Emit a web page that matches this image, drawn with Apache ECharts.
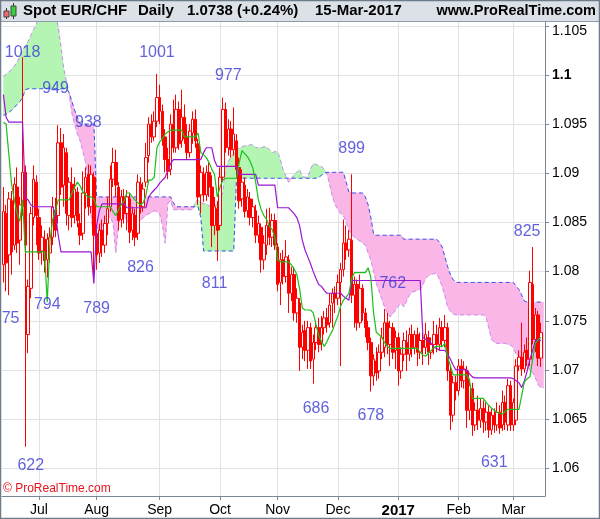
<!DOCTYPE html>
<html><head><meta charset="utf-8">
<script src="https://cdn.jsdelivr.net/npm/echarts@6/dist/echarts.min.js"></script>
<style>html,body{margin:0;padding:0;background:#fff}#c{width:600px;height:519px}</style>
</head><body><div id="c"></div>
<script>
// ---------- DATA ----------
const tradingDays = [
 ['2016-06',[14,15,16,17,20,21,22,23,24,27,28,29,30]],
 ['2016-07',[1,4,5,6,7,8,11,12,13,14,15,18,19,20,21,22,25,26,27,28,29]],
 ['2016-08',[1,2,3,4,5,8,9,10,11,12,15,16,17,18,19,22,23,24,25,26,29,30,31]],
 ['2016-09',[1,2,5,6,7,8,9,12,13,14,15,16,19,20,21,22,23,26,27,28,29,30]],
 ['2016-10',[3,4,5,6,7,10,11,12,13,14,17,18,19,20,21,24,25,26,27,28,31]],
 ['2016-11',[1,2,3,4,7,8,9,10,11,14,15,16,17,18,21,22,23,24,25,28,29,30]],
 ['2016-12',[1,2,5,6,7,8,9,12,13,14,15,16,19,20,21,22,23,26,27,28,29,30]],
 ['2017-01',[2,3,4,5,6,9,10,11,12,13,16,17,18,19,20,23,24,25,26,27,30,31]],
 ['2017-02',[1,2,3,6,7,8,9,10,13,14,15,16,17,20,21,22,23,24,27,28]],
 ['2017-03',[1,2,3,6,7,8,9,10,13,14,15,16]]
];
const monthTickLabels = {'2016-07':'Jul','2016-08':'Aug','2016-09':'Sep','2016-10':'Oct','2016-11':'Nov','2016-12':'Dec','2017-01':'2017','2017-02':'Feb','2017-03':'Mar'};
const yTicks = [1.06,1.065,1.07,1.075,1.08,1.085,1.09,1.095,1.1,1.105];

// candles: [open, close, low, high]
const candles = [
[1.0807,1.0861,1.0789,1.0886],[1.0859,1.0809,1.0780,1.0868],[1.0817,1.0874,1.0776,1.0881],[1.0872,1.0820,1.0797,1.0882],
[1.0827,1.0889,1.0822,1.0896],[1.0886,1.0829,1.0819,1.0906],[1.0832,1.0868,1.0807,1.0876],[1.0866,1.0901,1.0857,1.1018],
[1.0901,1.0827,1.0622,1.0908],[1.0736,1.0785,1.0717,1.0792],[1.0783,1.0859,1.0773,1.0866],[1.0855,1.0894,1.0847,1.0908],
[1.0891,1.0857,1.0827,1.0898],
[1.0855,1.0819,1.0812,1.0864],[1.0821,1.0835,1.0807,1.0847],[1.0833,1.0811,1.0799,1.0842],[1.0812,1.0833,1.0794,1.0839],
[1.0819,1.0835,1.0809,1.0845],[1.0835,1.0866,1.0827,1.0876],[1.0862,1.0842,1.0835,1.0875],[1.0857,1.0931,1.0849,1.0949],
[1.0931,1.0886,1.0878,1.0946],[1.0888,1.0926,1.0866,1.0940],[1.0921,1.0859,1.0847,1.0926],[1.0857,1.0891,1.0842,1.0896],
[1.0889,1.0855,1.0845,1.0906],[1.0857,1.0884,1.0849,1.0896],[1.0881,1.0852,1.0845,1.0886],[1.0849,1.0837,1.0827,1.0859],
[1.0839,1.0880,1.0832,1.0902],[1.0880,1.0896,1.0864,1.0906],[1.0899,1.0866,1.0857,1.0909],[1.0866,1.0899,1.0859,1.0908],
[1.0896,1.0837,1.0789,1.0901],
[1.0839,1.0817,1.0802,1.0847],[1.0819,1.0842,1.0809,1.0849],[1.0842,1.0827,1.0815,1.0853],[1.0827,1.0849,1.0819,1.0857],
[1.0849,1.0864,1.0837,1.0876],[1.0866,1.0894,1.0861,1.0908],[1.0894,1.0911,1.0886,1.0926],[1.0911,1.0888,1.0876,1.0924],
[1.0886,1.0852,1.0842,1.0891],[1.0853,1.0876,1.0845,1.0883],[1.0876,1.0859,1.0849,1.0884],[1.0859,1.0876,1.0842,1.0883],
[1.0874,1.0840,1.0829,1.0880],[1.0842,1.0859,1.0832,1.0866],[1.0857,1.0835,1.0826,1.0864],[1.0839,1.0891,1.0832,1.0899],
[1.0889,1.0866,1.0859,1.0896],[1.0866,1.0884,1.0861,1.0891],[1.0891,1.0916,1.0886,1.0931],[1.0918,1.0950,1.0911,1.0957],
[1.0950,1.0937,1.0931,1.0960],[1.0937,1.0953,1.0933,1.0963],[1.0953,1.0977,1.0947,1.1001],
[1.0977,1.0963,1.0950,1.0990],[1.0963,1.0935,1.0928,1.0970],[1.0937,1.0914,1.0901,1.0945],[1.0914,1.0902,1.0894,1.0926],
[1.0904,1.0950,1.0898,1.0960],[1.0950,1.0926,1.0921,1.0975],[1.0926,1.0965,1.0921,1.0980],[1.0965,1.0930,1.0924,1.0973],
[1.0933,1.0957,1.0926,1.0985],[1.0957,1.0935,1.0930,1.0970],[1.0937,1.0921,1.0914,1.0950],[1.0921,1.0943,1.0916,1.0950],
[1.0941,1.0955,1.0930,1.0963],[1.0955,1.0933,1.0926,1.0965],[1.0930,1.0876,1.0868,1.0935],[1.0878,1.0901,1.0859,1.0908],
[1.0899,1.0878,1.0871,1.0906],[1.0878,1.0901,1.0872,1.0908],[1.0901,1.0886,1.0876,1.0911],[1.0886,1.0847,1.0825,1.0898],
[1.0847,1.0866,1.0837,1.0876],[1.0864,1.0842,1.0811,1.0872],
[1.0847,1.0896,1.0842,1.0906],[1.0896,1.0965,1.0891,1.0977],[1.0965,1.0926,1.0921,1.0972],[1.0926,1.0945,1.0918,1.0955],
[1.0945,1.0924,1.0916,1.0953],[1.0924,1.0940,1.0918,1.0967],[1.0933,1.0904,1.0896,1.0940],[1.0906,1.0872,1.0864,1.0916],
[1.0874,1.0891,1.0866,1.0904],[1.0888,1.0861,1.0855,1.0896],[1.0862,1.0876,1.0855,1.0884],[1.0874,1.0855,1.0847,1.0881],
[1.0855,1.0866,1.0845,1.0874],[1.0862,1.0837,1.0829,1.0868],[1.0837,1.0849,1.0829,1.0857],[1.0845,1.0812,1.0799,1.0849],
[1.0812,1.0829,1.0802,1.0837],[1.0827,1.0847,1.0817,1.0864],[1.0847,1.0835,1.0827,1.0865],[1.0835,1.0852,1.0825,1.0859],
[1.0852,1.0827,1.0822,1.0859],
[1.0825,1.0787,1.0780,1.0829],[1.0789,1.0812,1.0766,1.0819],[1.0812,1.0795,1.0787,1.0822],[1.0795,1.0815,1.0789,1.0832],
[1.0812,1.0778,1.0758,1.0817],[1.0778,1.0797,1.0770,1.0805],[1.0797,1.0758,1.0750,1.0805],[1.0758,1.0773,1.0748,1.0783],
[1.0768,1.0723,1.0699,1.0773],[1.0723,1.0738,1.0711,1.0746],[1.0740,1.0720,1.0709,1.0750],[1.0720,1.0743,1.0701,1.0750],
[1.0743,1.0709,1.0701,1.0748],[1.0711,1.0728,1.0686,1.0736],[1.0728,1.0743,1.0720,1.0750],[1.0743,1.0726,1.0718,1.0753],
[1.0728,1.0743,1.0720,1.0755],[1.0743,1.0753,1.0736,1.0760],[1.0753,1.0746,1.0738,1.0763],[1.0748,1.0766,1.0743,1.0778],
[1.0768,1.0778,1.0743,1.0783],[1.0778,1.0773,1.0758,1.0785],
[1.0773,1.0789,1.0766,1.0797],[1.0789,1.0802,1.0704,1.0809],[1.0802,1.0829,1.0795,1.0853],[1.0829,1.0822,1.0812,1.0847],
[1.0822,1.0833,1.0815,1.0842],[1.0832,1.0776,1.0768,1.0899],[1.0776,1.0787,1.0743,1.0795],[1.0787,1.0748,1.0740,1.0792],
[1.0748,1.0783,1.0743,1.0797],[1.0783,1.0758,1.0750,1.0787],[1.0758,1.0743,1.0733,1.0763],[1.0743,1.0728,1.0720,1.0750],
[1.0728,1.0694,1.0678,1.0733],[1.0694,1.0711,1.0684,1.0716],[1.0709,1.0697,1.0689,1.0723],[1.0699,1.0718,1.0691,1.0726],
[1.0718,1.0733,1.0711,1.0743],[1.0723,1.0748,1.0713,1.0762],[1.0748,1.0726,1.0716,1.0758],[1.0726,1.0743,1.0704,1.0750],
[1.0743,1.0718,1.0711,1.0748],[1.0720,1.0733,1.0701,1.0740],
[1.0733,1.0699,1.0684,1.0738],[1.0699,1.0716,1.0691,1.0723],[1.0716,1.0730,1.0709,1.0738],[1.0728,1.0716,1.0699,1.0740],
[1.0716,1.0736,1.0709,1.0743],[1.0736,1.0723,1.0713,1.0746],[1.0723,1.0736,1.0716,1.0740],[1.0736,1.0718,1.0704,1.0743],
[1.0718,1.0730,1.0711,1.0738],[1.0730,1.0723,1.0705,1.0738],[1.0723,1.0736,1.0716,1.0748],[1.0733,1.0718,1.0705,1.0740],
[1.0718,1.0726,1.0711,1.0733],[1.0726,1.0736,1.0716,1.0750],[1.0736,1.0726,1.0718,1.0746],[1.0726,1.0743,1.0720,1.0753],
[1.0743,1.0730,1.0723,1.0750],[1.0730,1.0743,1.0723,1.0756],[1.0743,1.0699,1.0689,1.0748],[1.0699,1.0654,1.0639,1.0704],
[1.0654,1.0687,1.0647,1.0694],[1.0687,1.0679,1.0669,1.0694],
[1.0679,1.0704,1.0674,1.0711],[1.0704,1.0689,1.0682,1.0711],[1.0689,1.0701,1.0681,1.0709],[1.0699,1.0659,1.0641,1.0704],
[1.0659,1.0684,1.0649,1.0691],[1.0681,1.0644,1.0633,1.0687],[1.0644,1.0659,1.0638,1.0667],[1.0659,1.0649,1.0639,1.0674],
[1.0649,1.0661,1.0641,1.0671],[1.0661,1.0647,1.0636,1.0669],[1.0647,1.0657,1.0638,1.0667],[1.0657,1.0639,1.0631,1.0664],
[1.0639,1.0654,1.0634,1.0661],[1.0654,1.0644,1.0636,1.0661],[1.0644,1.0657,1.0638,1.0667],[1.0657,1.0641,1.0635,1.0664],
[1.0644,1.0667,1.0638,1.0679],[1.0667,1.0647,1.0639,1.0674],[1.0644,1.0684,1.0638,1.0691],[1.0684,1.0644,1.0638,1.0689],
[1.0644,1.0667,1.0638,1.0671],[1.0649,1.0704,1.0644,1.0711],[1.0704,1.0713,1.0699,1.0720],[1.0713,1.0701,1.0694,1.0748],
[1.0701,1.0718,1.0697,1.0726],[1.0720,1.0711,1.0704,1.0733],[1.0711,1.0789,1.0704,1.0801],[1.0787,1.0731,1.0726,1.0825],
[1.0731,1.0756,1.0718,1.0763],[1.0756,1.0712,1.0704,1.0760],[1.0712,1.0738,1.0703,1.0748]
];

const tenkan = [
1.0952,1.0950,1.0919,1.0889,1.0873,1.0859,1.0851,1.0873,1.0820,1.0820,
1.0820,1.0820,1.0820,1.0820,1.0820,1.0820,1.0769,1.0832,1.0853,1.0862,
1.0873,1.0873,1.0873,1.0873,1.0873,1.0880,1.0886,1.0891,1.0887,1.0881,
1.0878,1.0876,1.0876,1.0874,1.0866,1.0866,1.0866,1.0866,1.0866,1.0866,
1.0861,1.0857,1.0863,1.0868,1.0872,1.0880,1.0880,1.0876,1.0873,1.0870,
1.0868,1.0870,1.0878,1.0893,1.0893,1.0896,1.0926,1.0932,1.0935,1.0940,
1.0942,1.0944,1.0944,1.0944,1.0944,1.0944,1.0937,1.0937,1.0937,1.0937,
1.0937,1.0941,1.0921,1.0919,1.0916,1.0911,1.0904,1.0899,1.0876,1.0886,
1.0893,1.0895,1.0895,1.0895,1.0895,1.0895,1.0911,1.0923,1.0920,1.0917,
1.0912,1.0905,1.0891,1.0873,1.0863,1.0857,1.0853,1.0846,1.0843,1.0835,
1.0812,1.0810,1.0810,1.0810,1.0810,1.0807,1.0803,1.0797,1.0783,1.0763,
1.0761,1.0761,1.0761,1.0758,1.0746,1.0735,1.0729,1.0724,1.0729,1.0735,
1.0740,1.0748,1.0755,1.0765,1.0771,1.0774,1.0778,1.0793,1.0799,1.0799,
1.0799,1.0799,1.0799,1.0804,1.0794,1.0758,1.0738,1.0736,1.0733,1.0728,
1.0724,1.0722,1.0722,1.0722,1.0722,1.0722,1.0722,1.0722,1.0722,1.0722,
1.0722,1.0722,1.0718,1.0715,1.0714,1.0717,1.0720,1.0723,1.0724,1.0724,
1.0724,1.0727,1.0713,1.0704,1.0695,1.0695,1.0695,1.0695,1.0695,1.0695,
1.0689,1.0671,1.0671,1.0671,1.0671,1.0671,1.0667,1.0664,1.0661,1.0659,
1.0657,1.0656,1.0655,1.0658,1.0660,1.0660,1.0660,1.0660,1.0660,1.0674,
1.0688,1.0691,1.0693,1.0711,1.0727,1.0731,1.0733
];

const kijun = [
1.0980,1.0957,1.0952,1.0952,1.0952,1.0952,1.0952,1.0952,1.0875,1.0873,
1.0868,1.0866,1.0866,1.0866,1.0866,1.0866,1.0866,1.0866,1.0866,1.0859,
1.0837,1.0820,1.0820,1.0820,1.0820,1.0820,1.0820,1.0820,1.0820,1.0820,
1.0820,1.0820,1.0820,1.0788,1.0847,1.0862,1.0869,1.0869,1.0869,1.0869,
1.0869,1.0869,1.0869,1.0869,1.0869,1.0865,1.0865,1.0865,1.0865,1.0865,
1.0865,1.0865,1.0865,1.0876,1.0880,1.0883,1.0886,1.0890,1.0893,1.0896,
1.0903,1.0910,1.0914,1.0914,1.0914,1.0914,1.0914,1.0914,1.0914,1.0914,
1.0914,1.0914,1.0914,1.0921,1.0926,1.0926,1.0926,1.0913,1.0907,1.0907,
1.0907,1.0907,1.0907,1.0907,1.0907,1.0907,1.0899,1.0899,1.0899,1.0899,
1.0899,1.0899,1.0899,1.0888,1.0888,1.0888,1.0888,1.0888,1.0888,1.0888,
1.0865,1.0865,1.0865,1.0865,1.0865,1.0862,1.0859,1.0855,1.0847,1.0832,
1.0822,1.0815,1.0808,1.0800,1.0793,1.0787,1.0785,1.0781,1.0778,1.0778,
1.0778,1.0778,1.0778,1.0778,1.0775,1.0773,1.0771,1.0791,1.0791,1.0791,
1.0791,1.0791,1.0791,1.0791,1.0791,1.0791,1.0791,1.0791,1.0791,1.0791,
1.0791,1.0791,1.0791,1.0791,1.0791,1.0791,1.0791,1.0791,1.0791,1.0791,
1.0791,1.0791,1.0791,1.0733,1.0731,1.0730,1.0727,1.0723,1.0722,1.0720,
1.0720,1.0720,1.0716,1.0711,1.0705,1.0700,1.0700,1.0700,1.0700,1.0700,
1.0696,1.0693,1.0692,1.0692,1.0692,1.0692,1.0692,1.0692,1.0692,1.0692,
1.0692,1.0692,1.0692,1.0692,1.0692,1.0692,1.0691,1.0689,1.0687,1.0682,
1.0689,1.0699,1.0711,1.0720,1.0730,1.0730,1.0730
];

const spanA = [
1.0998,1.1001,1.1003,1.1006,1.1009,1.1013,1.1019,1.1025,1.1030,1.1034,
1.1040,1.1046,1.1051,1.1062,1.1062,1.1062,1.1062,1.1062,1.1062,1.1062,
1.1049,1.1029,1.1007,1.0993,1.0981,1.0961,1.0950,1.0940,1.0933,1.0922,
1.0911,1.0891,1.0857,1.0833,1.0848,1.0840,1.0845,1.0851,1.0854,1.0856,
1.0849,1.0819,1.0849,1.0854,1.0856,1.0852,1.0848,1.0846,1.0848,1.0850,
1.0852,1.0855,1.0857,1.0859,1.0860,1.0862,1.0861,1.0859,1.0847,1.0829,
1.0870,1.0872,1.0863,1.0863,1.0863,1.0863,1.0863,1.0863,1.0863,1.0863,
1.0871,1.0873,1.0870,1.0869,1.0869,1.0867,1.0865,1.0867,1.0869,1.0872,
1.0881,1.0904,1.0912,1.0917,1.0920,1.0924,1.0926,1.0927,1.0928,1.0928,
1.0929,1.0929,1.0926,1.0926,1.0926,1.0927,1.0927,1.0924,1.0921,1.0922,
1.0922,1.0914,1.0904,1.0897,1.0891,1.0894,1.0899,1.0901,1.0904,1.0897,
1.0896,1.0896,1.0904,1.0910,1.0909,1.0908,1.0907,1.0904,1.0900,1.0888,
1.0876,1.0868,1.0863,1.0859,1.0857,1.0850,1.0842,1.0838,1.0835,1.0833,
1.0831,1.0829,1.0827,1.0819,1.0812,1.0800,1.0788,1.0780,1.0772,1.0764,
1.0758,1.0754,1.0757,1.0761,1.0765,1.0768,1.0764,1.0770,1.0776,1.0779,
1.0780,1.0781,1.0782,1.0787,1.0793,1.0796,1.0797,1.0798,1.0798,1.0792,
1.0785,1.0775,1.0764,1.0760,1.0757,1.0756,1.0756,1.0756,1.0756,1.0756,
1.0756,1.0756,1.0756,1.0756,1.0756,1.0756,1.0754,1.0743,1.0731,1.0728,
1.0727,1.0727,1.0727,1.0727,1.0726,1.0725,1.0723,1.0716,1.0713,1.0711,
1.0708,1.0704,1.0700,1.0697,1.0692,1.0685,1.0682,1.0682
];

const spanB = [
1.0959,1.0960,1.0962,1.0964,1.0967,1.0970,1.0973,1.0977,1.0985,1.0986,
1.0986,1.0986,1.0986,1.0986,1.0986,1.0986,1.0986,1.0986,1.0986,1.0986,
1.0986,1.0986,1.0986,1.0986,1.0982,1.0973,1.0964,1.0957,1.0950,1.0950,
1.0950,1.0950,1.0950,1.0950,1.0876,1.0876,1.0876,1.0876,1.0876,1.0876,
1.0876,1.0876,1.0876,1.0876,1.0876,1.0876,1.0876,1.0876,1.0876,1.0876,
1.0876,1.0876,1.0876,1.0876,1.0876,1.0876,1.0876,1.0876,1.0876,1.0876,
1.0876,1.0876,1.0870,1.0866,1.0866,1.0866,1.0866,1.0866,1.0866,1.0866,
1.0866,1.0866,1.0855,1.0821,1.0821,1.0821,1.0821,1.0821,1.0821,1.0821,
1.0821,1.0821,1.0821,1.0821,1.0821,1.0895,1.0895,1.0895,1.0895,1.0895,
1.0895,1.0895,1.0895,1.0895,1.0895,1.0895,1.0895,1.0895,1.0895,1.0895,
1.0895,1.0895,1.0895,1.0895,1.0895,1.0895,1.0895,1.0895,1.0895,1.0895,
1.0895,1.0895,1.0895,1.0895,1.0895,1.0896,1.0898,1.0900,1.0901,1.0901,
1.0901,1.0901,1.0901,1.0901,1.0901,1.0891,1.0881,1.0880,1.0880,1.0880,
1.0880,1.0880,1.0876,1.0868,1.0855,1.0838,1.0837,1.0837,1.0837,1.0837,
1.0837,1.0837,1.0837,1.0837,1.0837,1.0837,1.0833,1.0833,1.0833,1.0833,
1.0833,1.0833,1.0833,1.0833,1.0833,1.0833,1.0833,1.0833,1.0833,1.0830,
1.0825,1.0815,1.0805,1.0797,1.0792,1.0789,1.0789,1.0789,1.0789,1.0789,
1.0789,1.0789,1.0789,1.0789,1.0789,1.0789,1.0789,1.0789,1.0789,1.0789,
1.0789,1.0789,1.0789,1.0789,1.0789,1.0789,1.0789,1.0785,1.0782,1.0776,
1.0770,1.0769,1.0769,1.0769,1.0769,1.0769,1.0769,1.0769
];

// swing annotations: text, bar index, price where the text sits
const swingLabels = [
 ['1018',7,1.1023],['949',19,1.0986],['938',31,1.0952],['1001',56,1.1023],['977',82,1.0999],
 ['899',127,1.0925],['826',50,1.0804],['811',77,1.0788],['794',16,1.0766],['789',34,1.0762],
 ['775',1,1.0752],['762',142,1.0788],['825',191,1.0841],['686',114,1.0661],['678',134,1.0654],
 ['631',179,1.0606],['622',10,1.0603]
];

const Y_MIN = 1.05718, Y_MAX = 1.10539;

// ---------- BUILD ----------
const categories = [];
const monthStart = new Map();
tradingDays.forEach(([ym, days]) => {
  days.forEach((d, k) => {
    const idx = categories.length;
    categories.push(ym + '-' + String(d).padStart(2, '0'));
    if (k === 0 && monthTickLabels[ym]) monthStart.set(idx, monthTickLabels[ym]);
  });
});
const isMonth = (i) => monthStart.has(i);

const GREEN = '#b4f5b4', PINK = '#f9b6e6';
// cloud: one polygon per run where span A stays on the same side of span B
function renderCloud(params, api) {
  const pa = (i) => api.coord([i, spanA[i]]);
  const pb = (i) => api.coord([i, spanB[i]]);
  const children = [];
  let run = null;
  const flush = () => {
    if (run && run.top.length > 1) {
      const c = run.sign > 0 ? GREEN : PINK;
      children.push({type: 'polygon', shape: {points: run.top.concat(run.bot.slice().reverse())},
        style: {fill: c, stroke: c, lineWidth: 0.5}});
    }
  };
  for (let i = 0; i < spanA.length; i++) {
    const d = spanA[i] - spanB[i];
    const s = d >= 0 ? 1 : -1;
    if (!run) { run = {sign: s, top: [pa(i)], bot: [pb(i)]}; continue; }
    if (s === run.sign) { run.top.push(pa(i)); run.bot.push(pb(i)); continue; }
    const dp = spanA[i - 1] - spanB[i - 1];
    const t = dp / (dp - d);
    const A0 = pa(i - 1), A1 = pa(i);
    const X = [A0[0] + (A1[0] - A0[0]) * t, A0[1] + (A1[1] - A0[1]) * t];
    run.top.push(X); run.bot.push(X);
    flush();
    run = {sign: s, top: [X, pa(i)], bot: [X, pb(i)]};
  }
  flush();
  return {type: 'group', children};
}

const FONT = '"Liberation Sans", Arial, sans-serif';
const AXIS_COL = '#7b8794';

const chart = echarts.init(document.getElementById('c'), null, {renderer: 'canvas', width: 600, height: 519});
chart.setOption({
  animation: false,
  backgroundColor: '#ffffff',
  grid: {left: 2, right: 55, top: 22, bottom: 23, containLabel: false},
  xAxis: {
    type: 'category', data: categories, boundaryGap: true,
    axisLine: {show: true, lineStyle: {color: AXIS_COL, width: 1}},
    axisTick: {show: true, interval: isMonth, alignWithLabel: true, length: 4, lineStyle: {color: AXIS_COL}},
    axisLabel: {
      interval: isMonth, margin: 7, fontFamily: FONT, fontSize: 14, color: '#000',
      formatter: (v, idx) => { const l = monthStart.get(idx) || ''; return l === '2017' ? '{b|2017}' : l; },
      rich: {b: {fontFamily: FONT, fontSize: 15, fontWeight: 'bold', color: '#000'}}
    },
    splitLine: {show: true, interval: isMonth, alignWithLabel: true, lineStyle: {color: '#e2e2e2', width: 1}}
  },
  yAxis: {
    type: 'value', position: 'right', min: Y_MIN, max: Y_MAX,
    axisLine: {show: true, lineStyle: {color: AXIS_COL, width: 1}},
    axisTick: {show: true, length: 4, customValues: yTicks, lineStyle: {color: AXIS_COL}},
    axisLabel: {
      customValues: yTicks, margin: 7, fontFamily: FONT, fontSize: 14, color: '#000',
      formatter: (v) => { if (Math.abs(v - 1.1) < 1e-9) return '{b|1.1}'; if (Math.abs(v - 1.105) < 1e-9) return '{t|1.105}'; return String(+v.toFixed(3)); },
      rich: {
        b: {fontFamily: FONT, fontSize: 14, fontWeight: 'bold', color: '#000'},
        t: {fontFamily: FONT, fontSize: 14, color: '#000', padding: [11, 0, 0, 0]}
      }
    },
    splitLine: {show: true, lineStyle: {color: '#e2e2e2', width: 1}}
  },
  series: [
    {type: 'custom', name: 'cloud', data: [[0, spanA[0], spanB[0]]], renderItem: renderCloud, clip: true, z: 1,
     encode: {x: 0, y: [1, 2]}, silent: true},
    {type: 'line', name: 'spanA', data: spanA, showSymbol: false, z: 2, silent: true,
     lineStyle: {color: '#c58cf0', width: 1, type: [4, 3]}},
    {type: 'line', name: 'spanB', data: spanB, showSymbol: false, z: 2, silent: true,
     lineStyle: {color: '#3150ee', width: 1, type: [4, 3]}},
    {type: 'candlestick', name: 'EUR/CHF', data: candles, z: 3, barWidth: 3,
     itemStyle: {color: '#ffffff', color0: '#ff0000', borderColor: '#ff0000', borderColor0: '#ff0000', borderWidth: 1}},
    {type: 'line', name: 'kijun', data: kijun, showSymbol: false, z: 4, silent: true,
     lineStyle: {color: '#9a16d2', width: 1.2}},
    {type: 'line', name: 'tenkan', data: tenkan, showSymbol: false, z: 4, silent: true,
     lineStyle: {color: '#18c018', width: 1.2}},
    {type: 'scatter', name: 'swings', z: 5, symbolSize: 1, silent: true,
     itemStyle: {color: 'rgba(0,0,0,0)'},
     data: swingLabels.map(([t, i, p]) => ({name: t, value: [i, p]})),
     label: {show: true, position: 'inside', formatter: '{b}', fontFamily: FONT, fontSize: 16, color: '#3a3ad4'}}
  ],
  graphic: [
    {type: 'rect', shape: {x: 0, y: 0, width: 600, height: 21}, style: {fill: '#dbe1e7'}, z: 100, silent: true},
    {type: 'line', shape: {x1: 0, y1: 21.5, x2: 600, y2: 21.5}, style: {stroke: '#8f9ba7', lineWidth: 1}, z: 101, silent: true},
    {type: 'line', shape: {x1: 6.5, y1: 8, x2: 6.5, y2: 19}, style: {stroke: '#333', lineWidth: 1}, z: 101, silent: true},
    {type: 'rect', shape: {x: 4, y: 11, width: 5, height: 6}, style: {fill: '#ee6a6a', stroke: '#444', lineWidth: 1}, z: 102, silent: true},
    {type: 'line', shape: {x1: 13.5, y1: 3, x2: 13.5, y2: 19}, style: {stroke: '#333', lineWidth: 1}, z: 101, silent: true},
    {type: 'rect', shape: {x: 11, y: 6, width: 5, height: 10}, style: {fill: '#39d139', stroke: '#444', lineWidth: 1}, z: 102, silent: true},
    {type: 'text', x: 23, y: 11, z: 103, silent: true, style: {text: 'Spot EUR/CHF', font: 'bold 15px ' + FONT, fill: '#000', verticalAlign: 'middle'}},
    {type: 'text', x: 138, y: 11, z: 103, silent: true, style: {text: 'Daily', font: 'bold 15px ' + FONT, fill: '#000', verticalAlign: 'middle'}},
    {type: 'text', x: 187, y: 11, z: 103, silent: true, style: {text: '1.0738 (+0.24%)', font: 'bold 15px ' + FONT, fill: '#000', verticalAlign: 'middle'}},
    {type: 'text', x: 315, y: 11, z: 103, silent: true, style: {text: '15-Mar-2017', font: 'bold 15px ' + FONT, fill: '#000', verticalAlign: 'middle'}},
    {type: 'text', x: 596, y: 11, z: 103, silent: true, style: {text: 'www.ProRealTime.com', font: 'bold 14.5px ' + FONT, fill: '#000', align: 'right', verticalAlign: 'middle'}},
    {type: 'text', x: 3, y: 489, z: 103, silent: true, style: {text: '\u00a9 ProRealTime.com', font: '12px ' + FONT, fill: '#e8141e', verticalAlign: 'middle'}},
    {type: 'rect', shape: {x: 0.5, y: 0.5, width: 599, height: 518}, style: {fill: null, stroke: '#6d7c8a', lineWidth: 1.5}, z: 104, silent: true}
  ]
});
</script>
</body></html>
